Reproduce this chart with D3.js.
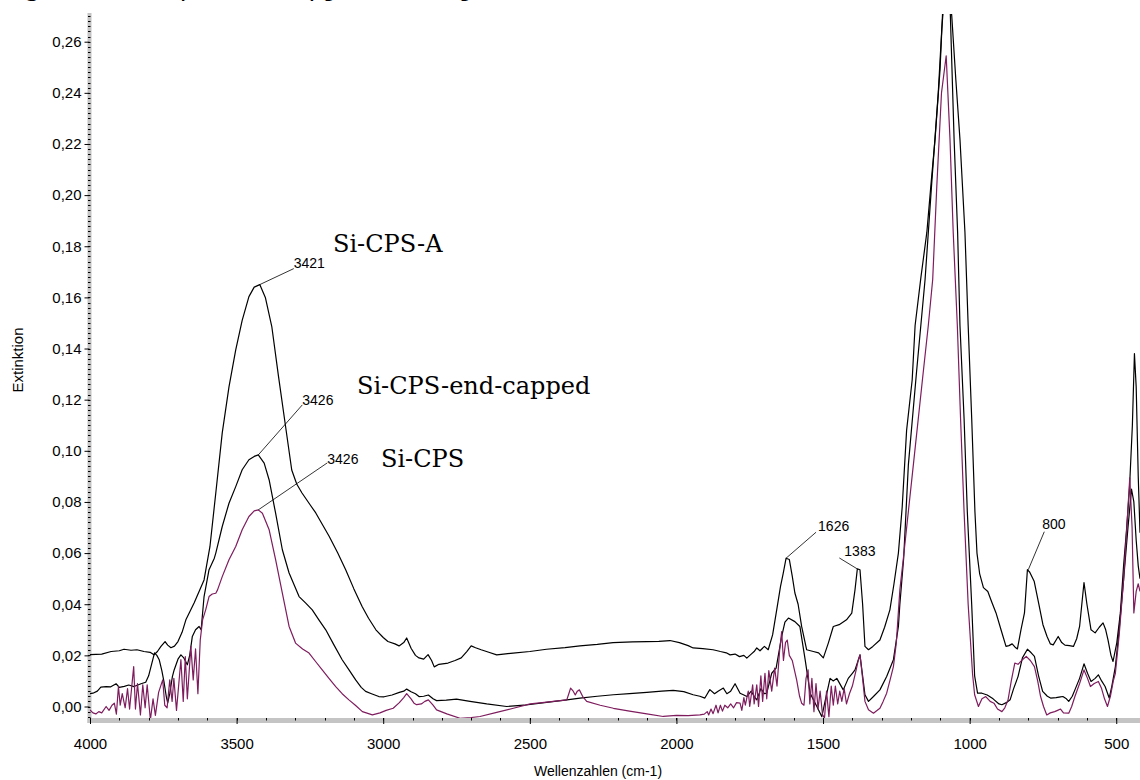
<!DOCTYPE html>
<html>
<head>
<meta charset="utf-8">
<script src="https://cdn.jsdelivr.net/npm/d3@7"></script>
<style>
body { margin: 0; background: #fff; }
svg { display: block; }
</style>
</head>
<body>
<div id="svg-container"></div>
<script>
// tick values of both axes
const wavenumberTicks = [4000, 3500, 3000, 2500, 2000, 1500, 1000, 500];
const extinctionTicks = [0, 0.02, 0.04, 0.06, 0.08, 0.10, 0.12, 0.14, 0.16, 0.18, 0.20, 0.22, 0.24, 0.26];

// series names as written in the plot
const seriesNames = ['Si-CPS-A', 'Si-CPS-end-capped', 'Si-CPS'];

// [wavenumber cm-1, extinction]
const siCpsA = [
    [4000, 0.0203], [3960, 0.0205], [3928, 0.0215], [3900, 0.0218], [3884, 0.0224], [3860, 0.0220],
    [3840, 0.0222], [3816, 0.0215], [3795, 0.0212], [3782, 0.0202], [3770, 0.0215], [3758, 0.0235],
    [3744, 0.0254], [3735, 0.0240], [3724, 0.0230], [3712, 0.0236], [3700, 0.0254], [3686, 0.0290],
    [3673, 0.0339], [3660, 0.0370], [3645, 0.0405], [3628, 0.0450], [3611, 0.0495], [3591, 0.0625],
    [3571, 0.0835], [3549, 0.107], [3526, 0.125], [3503, 0.1395], [3481, 0.151], [3458, 0.1603],
    [3440, 0.1640], [3421, 0.165], [3402, 0.160], [3380, 0.1486], [3357, 0.129], [3333, 0.1095],
    [3312, 0.0925], [3295, 0.0870], [3277, 0.0835], [3250, 0.0790], [3230, 0.0757], [3184, 0.0665],
    [3155, 0.0600], [3128, 0.0535], [3100, 0.0460], [3072, 0.0391], [3050, 0.0345], [3025, 0.030],
    [3000, 0.0270], [2984, 0.0254], [2960, 0.0245], [2946, 0.0237], [2930, 0.0250], [2920, 0.0268],
    [2905, 0.0228], [2890, 0.0200], [2878, 0.019], [2862, 0.0185], [2847, 0.0203], [2835, 0.0180],
    [2826, 0.0155], [2810, 0.0165], [2779, 0.017], [2755, 0.0180], [2734, 0.0190], [2715, 0.0215],
    [2700, 0.0237], [2685, 0.0230], [2666, 0.0222], [2640, 0.0212], [2613, 0.0202], [2590, 0.0205],
    [2557, 0.0209], [2500, 0.0215], [2443, 0.0224], [2380, 0.0230], [2329, 0.0237], [2270, 0.0243],
    [2216, 0.025], [2150, 0.0253], [2101, 0.0254], [2060, 0.0255], [2022, 0.0258], [1990, 0.0250],
    [1960, 0.0238], [1943, 0.0229], [1910, 0.0226], [1875, 0.0222], [1850, 0.0215], [1830, 0.0210],
    [1817, 0.0202], [1800, 0.0205], [1785, 0.0195], [1770, 0.0200], [1760, 0.0189], [1745, 0.0205],
    [1735, 0.0215], [1726, 0.0229], [1715, 0.0218], [1700, 0.0235], [1687, 0.0222], [1672, 0.0280],
    [1658, 0.0378], [1645, 0.0470], [1636, 0.052], [1626, 0.058], [1615, 0.0575], [1605, 0.0510],
    [1596, 0.0444], [1585, 0.040], [1573, 0.0313], [1556, 0.0222], [1533, 0.0215], [1515, 0.021],
    [1499, 0.019], [1482, 0.0248], [1465, 0.0313], [1445, 0.032], [1420, 0.0339], [1402, 0.0365],
    [1391, 0.0456], [1383, 0.0538], [1374, 0.0535], [1365, 0.040], [1357, 0.0235], [1345, 0.0222],
    [1330, 0.0235], [1306, 0.026], [1290, 0.031], [1272, 0.0378], [1258, 0.048], [1243, 0.060],
    [1230, 0.078], [1215, 0.108], [1196, 0.1277], [1186, 0.149], [1166, 0.168], [1146, 0.1854],
    [1132, 0.204], [1118, 0.2218], [1101, 0.249], [1092, 0.272], [1080, 0.284], [1070, 0.282],
    [1061, 0.270], [1047, 0.245], [1033, 0.2218], [1016, 0.1854], [1005, 0.149], [993, 0.1127],
    [982, 0.0763], [975, 0.060], [966, 0.052], [953, 0.0465], [938, 0.0450], [925, 0.0410],
    [910, 0.0366], [893, 0.030], [876, 0.0235], [866, 0.0238], [855, 0.0245], [845, 0.0232],
    [837, 0.0225], [825, 0.030], [813, 0.0366], [803, 0.0535], [795, 0.0525], [780, 0.049],
    [764, 0.040], [750, 0.032], [736, 0.0274], [725, 0.0245], [715, 0.0241], [698, 0.0274],
    [686, 0.0250], [675, 0.024], [660, 0.0238], [646, 0.0235], [635, 0.0265], [625, 0.0313],
    [610, 0.0485], [600, 0.040], [586, 0.0300], [572, 0.0288], [558, 0.0310], [545, 0.0327],
    [536, 0.0300], [528, 0.026], [518, 0.020], [511, 0.0176], [498, 0.025], [486, 0.0366],
    [475, 0.055], [465, 0.069], [455, 0.085], [445, 0.110], [438, 0.138], [432, 0.125],
    [425, 0.090], [419, 0.068]
];

const siCpsEndCapped = [
    [4000, 0.0050], [3990, 0.0052], [3975, 0.0060], [3963, 0.0076], [3945, 0.0078], [3929, 0.0077],
    [3911, 0.0089], [3900, 0.0075], [3883, 0.0079], [3868, 0.0084], [3850, 0.0078], [3826, 0.0089],
    [3810, 0.0095], [3800, 0.0120], [3792, 0.0156], [3780, 0.021], [3772, 0.0200], [3764, 0.0183],
    [3755, 0.0140], [3747, 0.0092], [3740, 0.0040], [3735, 0.0014], [3728, 0.0050], [3719, 0.0117],
    [3713, 0.0143], [3700, 0.0185], [3690, 0.0202], [3680, 0.0190], [3668, 0.0163], [3660, 0.0200],
    [3651, 0.0274], [3640, 0.0300], [3628, 0.0313], [3621, 0.030], [3611, 0.043], [3594, 0.0535],
    [3576, 0.058], [3571, 0.060], [3549, 0.0704], [3526, 0.0795], [3503, 0.086], [3481, 0.0926],
    [3458, 0.0965], [3440, 0.0978], [3426, 0.0984], [3406, 0.0952], [3389, 0.0886], [3367, 0.0756],
    [3344, 0.0613], [3321, 0.0522], [3300, 0.0465], [3287, 0.043], [3265, 0.0405], [3242, 0.0378],
    [3220, 0.034], [3196, 0.030], [3170, 0.0245], [3140, 0.0183], [3115, 0.0140], [3094, 0.0104],
    [3075, 0.0075], [3060, 0.0059], [3040, 0.0050], [3015, 0.0039], [2997, 0.0038], [2970, 0.0045],
    [2945, 0.0055], [2930, 0.0060], [2920, 0.0068], [2905, 0.0058], [2890, 0.0050], [2878, 0.0039],
    [2862, 0.0040], [2846, 0.0045], [2830, 0.0030], [2818, 0.0023], [2785, 0.0025], [2750, 0.0029],
    [2704, 0.002], [2647, 0.001], [2579, 0.0], [2520, 0.0005], [2443, 0.0016], [2380, 0.0025],
    [2329, 0.0033], [2270, 0.0040], [2215, 0.0046], [2160, 0.0050], [2101, 0.0055], [2050, 0.0060],
    [2011, 0.0063], [1975, 0.0058], [1943, 0.0046], [1920, 0.0040], [1903, 0.0033], [1892, 0.0055],
    [1886, 0.0066], [1870, 0.0050], [1858, 0.0060], [1840, 0.0072], [1828, 0.0050], [1815, 0.0060],
    [1800, 0.0089], [1783, 0.0052], [1770, 0.0045], [1760, 0.0039], [1745, 0.0060], [1735, 0.0040],
    [1726, 0.0026], [1712, 0.0070], [1700, 0.0050], [1692, 0.0052], [1675, 0.013], [1660, 0.0150],
    [1641, 0.0274], [1630, 0.0330], [1618, 0.0346], [1596, 0.0332], [1579, 0.0313], [1561, 0.0183],
    [1544, 0.0052], [1530, 0.0020], [1521, 0.0], [1504, -0.004], [1495, 0.0010], [1476, 0.011],
    [1465, 0.0100], [1453, 0.011], [1431, 0.0065], [1414, 0.011], [1400, 0.0130], [1391, 0.0143],
    [1374, 0.0202], [1365, 0.0120], [1357, 0.0046], [1345, 0.002], [1328, 0.0039], [1306, 0.0065],
    [1283, 0.0117], [1260, 0.0183], [1243, 0.0313], [1238, 0.040], [1225, 0.058], [1209, 0.0945],
    [1181, 0.131], [1152, 0.167], [1130, 0.2036], [1107, 0.240], [1095, 0.265], [1085, 0.280],
    [1075, 0.285], [1067, 0.275], [1053, 0.2218], [1041, 0.1854], [1033, 0.149], [1019, 0.1127],
    [1008, 0.0763], [993, 0.0399], [983, 0.012], [973, 0.0052], [958, 0.0052], [940, 0.0045],
    [920, 0.0030], [900, 0.0010], [890, 0.0007], [875, 0.0015], [862, 0.0026], [850, 0.0070],
    [835, 0.0117], [820, 0.0190], [803, 0.0224], [790, 0.0210], [779, 0.0196], [765, 0.0120],
    [751, 0.0059], [735, 0.0040], [724, 0.0033], [705, 0.0035], [690, 0.0038], [682, 0.0039],
    [670, 0.0030], [662, 0.002], [650, 0.0040], [641, 0.0065], [625, 0.0110], [610, 0.0167],
    [598, 0.0130], [586, 0.0098], [572, 0.0110], [561, 0.0124], [550, 0.0100], [538, 0.0078],
    [524, 0.0033], [515, 0.0080], [503, 0.0156], [490, 0.030], [475, 0.0495], [460, 0.070],
    [448, 0.085], [440, 0.080], [432, 0.065], [425, 0.055], [419, 0.050]
];

const siCps = [
    [4000, -0.0013], [3990, -0.0025], [3980, -0.0029], [3970, -0.0020], [3960, -0.0025], [3945, 0.0],
    [3935, -0.0015], [3925, 0.0005], [3917, 0.0013], [3910, -0.003], [3903, 0.0078], [3897, 0.0005],
    [3890, 0.0050], [3880, -0.0005], [3872, 0.0070], [3865, -0.001], [3851, 0.0156], [3845, -0.0010],
    [3838, 0.0090], [3828, -0.0033], [3820, 0.0085], [3812, -0.0005], [3805, 0.0085], [3794, -0.0052],
    [3785, 0.0030], [3777, -0.0035], [3766, 0.0055], [3752, 0.0104], [3745, 0.0005], [3737, -0.0005],
    [3728, 0.0104], [3720, 0.0020], [3714, 0.0110], [3705, -0.0015], [3690, 0.0183], [3682, 0.0020],
    [3675, 0.0195], [3668, 0.0030], [3656, 0.0235], [3648, 0.0104], [3640, 0.0225], [3632, 0.0050],
    [3624, 0.0260], [3616, 0.0339], [3605, 0.0380], [3594, 0.043], [3583, 0.0440], [3571, 0.0443],
    [3565, 0.0456], [3549, 0.0508], [3526, 0.0574], [3503, 0.0626], [3481, 0.0691], [3458, 0.0743],
    [3440, 0.0765], [3426, 0.0769], [3412, 0.0756], [3389, 0.0691], [3367, 0.0574], [3344, 0.0443],
    [3321, 0.0313], [3299, 0.0248], [3275, 0.0225], [3253, 0.0209], [3230, 0.0175], [3208, 0.0143],
    [3185, 0.0110], [3162, 0.0078], [3140, 0.0050], [3117, 0.0026], [3095, 0.0005], [3071, -0.002],
    [3037, -0.0033], [3011, -0.0025], [2990, -0.0015], [2966, -0.0007], [2945, 0.0015], [2930, 0.0035],
    [2920, 0.005], [2905, 0.0030], [2895, 0.0013], [2886, 0.0007], [2870, 0.0010], [2858, 0.0020],
    [2846, 0.0026], [2830, 0.0005], [2818, -0.0013], [2783, -0.0029], [2738, -0.0046], [2700, -0.0043],
    [2670, -0.0039], [2613, -0.0023], [2556, -0.0007], [2499, 0.001], [2450, 0.0016], [2420, 0.002],
    [2374, 0.0026], [2367, 0.0050], [2361, 0.0072], [2352, 0.0060], [2345, 0.0045], [2338, 0.0060],
    [2331, 0.0065], [2320, 0.0040], [2306, 0.002], [2260, 0.0005], [2215, -0.0007], [2160, -0.0018],
    [2101, -0.0029], [2045, -0.0039], [2000, -0.0035], [1960, -0.0036], [1920, -0.0033], [1905, -0.0030],
    [1895, -0.0020], [1890, -0.0033], [1882, -0.0010], [1875, -0.0028], [1865, 0.0005], [1858, -0.0025],
    [1850, 0.0005], [1843, -0.0018], [1835, 0.0005], [1825, -0.0005], [1815, 0.0010], [1805, -0.0005],
    [1795, 0.0015], [1783, 0.0013], [1777, -0.0015], [1770, 0.0035], [1765, 0.0005], [1755, 0.0060],
    [1750, 0.0000], [1740, 0.0085], [1735, 0.0010], [1726, 0.0085], [1720, 0.0000], [1712, 0.0120],
    [1706, 0.0020], [1698, 0.013], [1692, 0.0030], [1685, 0.0140], [1675, 0.0060], [1665, 0.0150],
    [1657, 0.0080], [1648, 0.0220], [1641, 0.0293], [1635, 0.0180], [1628, 0.0250], [1622, 0.026],
    [1615, 0.0200], [1605, 0.0180], [1590, 0.0104], [1580, 0.0040], [1573, 0.0013], [1565, 0.0005],
    [1558, 0.0110], [1551, 0.0143], [1545, 0.0010], [1538, 0.0110], [1531, -0.0020], [1524, 0.0090],
    [1517, -0.0010], [1510, 0.0060], [1502, -0.003], [1495, -0.0046], [1488, 0.0060], [1480, -0.0040],
    [1472, 0.0080], [1465, 0.0005], [1458, 0.0080], [1450, 0.0010], [1443, 0.0060], [1436, 0.0020],
    [1428, 0.0070], [1420, 0.0010], [1410, 0.0050], [1400, 0.0080], [1387, 0.0143], [1380, 0.0180],
    [1374, 0.0202], [1366, 0.0120], [1357, 0.0020], [1345, -0.0013], [1328, -0.0026], [1315, -0.0015],
    [1306, -0.0007], [1295, 0.0020], [1283, 0.0052], [1270, 0.0110], [1260, 0.0156], [1250, 0.0250],
    [1238, 0.0456], [1226, 0.058], [1192, 0.0945], [1158, 0.131], [1141, 0.149], [1126, 0.167],
    [1112, 0.2036], [1096, 0.240], [1080, 0.2545], [1067, 0.2218], [1056, 0.1854], [1042, 0.149],
    [1031, 0.1127], [1019, 0.0763], [1005, 0.0399], [990, 0.0126], [983, 0.0046], [970, 0.0],
    [958, 0.0030], [945, 0.0039], [930, 0.0020], [917, 0.0013], [905, -0.0010], [890, -0.002],
    [880, -0.0005], [869, 0.0026], [858, 0.0100], [846, 0.017], [835, 0.0165], [820, 0.0183],
    [807, 0.0196], [793, 0.0180], [779, 0.0156], [768, 0.0100], [758, 0.0039], [748, 0.0000],
    [737, -0.0033], [725, -0.0025], [710, -0.002], [700, -0.0015], [690, -0.0010], [680, -0.0025],
    [662, -0.0026], [652, 0.0000], [641, 0.0039], [625, 0.0090], [610, 0.0143], [598, 0.0110],
    [588, 0.0078], [575, 0.0090], [561, 0.0098], [550, 0.0070], [540, 0.0030], [530, 0.0],
    [520, 0.0040], [510, 0.0100], [503, 0.013], [490, 0.028], [475, 0.0495], [465, 0.068],
    [454, 0.0894], [446, 0.070], [440, 0.0366], [432, 0.045], [425, 0.048], [419, 0.045]
];

// peak annotations: wavenumber label and the series it belongs to
const peakLabels = ['3421', '3426', '3426', '1626', '1383', '800'];
const peakSeries = [0, 1, 2, 0, 0, 0];

const svgWidth = 1140;
const svgHeight = 780;
const plot = { left: 90, right: 1140, top: 14, bottom: 718 };

const svg = d3
.select('#svg-container')
.append('svg')
.attr('width', svgWidth)
.attr('height', svgHeight)
.style('background', '#fff');

const smallFont = '"Liberation Sans", Arial, sans-serif';

const x = d3.scaleLinear()
.domain([4000, 419])
.range([plot.left, plot.right]);

const y = d3.scaleLinear()
.domain([0, 0.26])
.range([706.5, 41.7]);

// caption of the figure, cut off by the top edge (only descenders show)
svg.append('text')
.attr('x', 0)
.attr('y', -4)
.attr('font-family', '"DejaVu Serif", serif')
.attr('font-style', 'italic')
.attr('font-size', 26)
.text('Figure 5: IR spectroscopy and analysis');

// grey axis bands
svg.append('rect')
.attr('x', 87.5).attr('y', 13)
.attr('width', 4).attr('height', plot.bottom - 13 + 5)
.attr('fill', '#c4c4c4');

svg.append('rect')
.attr('x', 87.5).attr('y', plot.bottom)
.attr('width', plot.right - 87.5).attr('height', 5)
.attr('fill', '#c4c4c4');

// minor ticks
const minorY = d3.range(-2, 136).map((i) => i * 0.002);
svg.append('g')
.selectAll('line')
.data(minorY)
.join('line')
.attr('x1', 88).attr('x2', 90.5)
.attr('y1', (d) => Math.round(y(d)) + 0.5)
.attr('y2', (d) => Math.round(y(d)) + 0.5)
.attr('stroke', '#000');

const minorX = d3.range(0, 36).map((i) => 4000 - i * 100);
svg.append('g')
.selectAll('line')
.data(minorX)
.join('line')
.attr('x1', (d) => Math.round(x(d)) + 0.5)
.attr('x2', (d) => Math.round(x(d)) + 0.5)
.attr('y1', plot.bottom).attr('y2', plot.bottom + 2.5)
.attr('stroke', '#000');

// y axis
svg.append('g')
.attr('transform', `translate(${89.5}, 0)`)
.call(
    d3.axisLeft(y)
    .tickValues(extinctionTicks)
    .tickSize(5)
    .tickSizeOuter(0)
    .tickPadding(3)
    .tickFormat((d) => d3.format('.2f')(d).replace('.', ','))
)
.call((g) => g.select('.domain').remove())
.call((g) => g.selectAll('text').attr('font-family', smallFont).attr('font-size', 15));

// x axis
svg.append('g')
.attr('transform', `translate(0, ${plot.bottom})`)
.call(
    d3.axisBottom(x)
    .tickValues(wavenumberTicks)
    .tickSize(6)
    .tickSizeOuter(0)
    .tickPadding(14)
    .tickFormat(d3.format('d'))
)
.call((g) => g.select('.domain').remove())
.call((g) => g.selectAll('text').attr('font-family', smallFont).attr('font-size', 15));

// axis titles
svg.append('text')
.attr('transform', 'translate(23, 360) rotate(-90)')
.attr('text-anchor', 'middle')
.attr('font-family', smallFont)
.attr('font-size', 15)
.text('Extinktion');

svg.append('text')
.attr('x', 598)
.attr('y', 776)
.attr('text-anchor', 'middle')
.attr('font-family', smallFont)
.attr('font-size', 14)
.text('Wellenzahlen (cm-1)');

// spectra
svg.append('clipPath')
.attr('id', 'plot-clip')
.append('rect')
.attr('x', plot.left).attr('y', plot.top)
.attr('width', plot.right - plot.left).attr('height', plot.bottom - plot.top);

const line = d3.line()
.x((d) => x(d[0]))
.y((d) => y(d[1]));

const allSeries = [siCpsA, siCpsEndCapped, siCps];
const seriesColors = ['#000000', '#000000', '#7e1c5e'];

svg.append('g')
.attr('clip-path', 'url(#plot-clip)')
.selectAll('path')
.data(allSeries)
.join('path')
.attr('d', line)
.attr('fill', 'none')
.attr('stroke', (d, i) => seriesColors[i])
.attr('stroke-width', 1.2)
.attr('stroke-linejoin', 'round');

// series names
const nameOffsets = [[333, 252], [357, 394], [381, 467]];
svg.append('g')
.selectAll('text')
.data(seriesNames)
.join('text')
.attr('x', (d, i) => nameOffsets[i][0])
.attr('y', (d, i) => nameOffsets[i][1])
.attr('font-family', '"DejaVu Serif", serif')
.attr('font-size', 24)
.text((d) => d);

// peak labels with leader lines
const leaderEnds = [[34, -16], [44, -50], [69, -47], [30, -26], [-18, -11], [16, -38]];
const textOffsets = [[0, -1], [0, 0], [0, 1], [2, -1], [5, -2], [-2, -3]];

const peakPoint = (i) => {
    const series = allSeries[peakSeries[i]];
    const wn = +peakLabels[i];
    const nearest = series.reduce((a, b) => Math.abs(b[0] - wn) < Math.abs(a[0] - wn) ? b : a);
    return [x(wn), y(nearest[1])];
};

const peaks = svg.append('g');
peakLabels.forEach((label, i) => {
    const [px, py] = peakPoint(i);
    const ex = px + leaderEnds[i][0];
    const ey = py + leaderEnds[i][1];
    peaks.append('line')
    .attr('x1', px).attr('y1', py)
    .attr('x2', ex).attr('y2', ey)
    .attr('stroke', '#000')
    .attr('stroke-width', 0.8);
    peaks.append('text')
    .attr('x', ex + textOffsets[i][0])
    .attr('y', ey + textOffsets[i][1])
    .attr('font-family', smallFont)
    .attr('font-size', 14)
    .text(label);
});
</script>
</body>
</html>
